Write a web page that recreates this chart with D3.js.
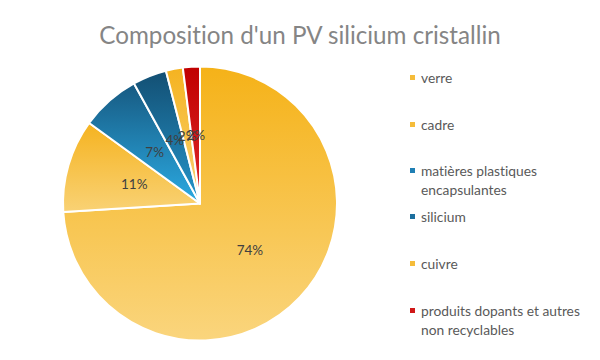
<!DOCTYPE html>
<html><head><meta charset="utf-8">
<script src="https://cdn.jsdelivr.net/npm/d3@7"></script>
<style>body{margin:0;background:#fff}svg{display:block}text{font-variant-ligatures:none;font-feature-settings:"liga" 0}</style>
</head><body>
<svg id="c" width="600" height="360"></svg>
<script>
const categories = ["verre","cadre","matières plastiques encapsulantes","silicium","cuivre","produits dopants et autres non recyclables"];
const values = [74, 11, 7, 4, 2, 2];
const legendLines = [["verre"],["cadre"],["matières plastiques","encapsulantes"],["silicium"],["cuivre"],["produits dopants et autres","non recyclables"]];
const gradTop = ["#F5B218","#F5B320","#175A82","#134F73","#F5B320","#C00000"];
const gradBottom = ["#FAD57D","#F9D275","#2BAAE2","#2596CC","#F9D275","#E02A2A"];
const legendColors = ["#F5BC3A","#F5BC3A","#1F7FB4","#1C6F9E","#F5BC3A","#D01818"];

const svg = d3.select("#c");
const font = "Lato, 'Open Sans', sans-serif";
svg.append("text").attr("x",300).attr("y",44).attr("text-anchor","middle")
  .attr("font-family",font).attr("font-size",24.2).attr("fill","#858585")
  .text("Composition d'un PV silicium cristallin");

const defs = svg.append("defs");
values.forEach((v,i)=>{
  const g = defs.append("linearGradient").attr("id","g"+i).attr("x1",0).attr("y1",0).attr("x2",0).attr("y2",1);
  g.append("stop").attr("offset","0%").attr("stop-color",gradTop[i]);
  g.append("stop").attr("offset","100%").attr("stop-color",gradBottom[i]);
});

const cx = 200, cy = 203.5, r = 137;
const pie = d3.pie().sort(null).value(d=>d);
const arcs = pie(values);
const arc = d3.arc().innerRadius(0).outerRadius(r);
const gp = svg.append("g").attr("transform",`translate(${cx},${cy})`);
gp.selectAll("path").data(arcs).join("path")
  .attr("d",arc).attr("fill",(d,i)=>`url(#g${i})`)
  .attr("stroke","#fff").attr("stroke-width",2).attr("stroke-linejoin","round");
gp.selectAll("text").data(arcs).join("text")
  .attr("transform",d=>`translate(${arc.centroid(d)})`)
  .attr("text-anchor","middle").attr("dy","0.35em")
  .attr("font-family",font).attr("font-size",13.5).attr("fill","#404040")
  .text(d=>d.data+"%");

const legY = [78,125,171,217,264,311];
const lg = svg.append("g");
legendLines.forEach((lines,i)=>{
  lg.append("rect").attr("x",410).attr("y",legY[i]-3).attr("width",5).attr("height",5).attr("fill",legendColors[i]);
  lines.forEach((t,j)=>{
    lg.append("text").attr("x",421).attr("y",legY[i]+5+j*18.5)
      .attr("font-family",font).attr("font-size",13.8).attr("fill","#595959").text(t);
  });
});
</script>
</body></html>
